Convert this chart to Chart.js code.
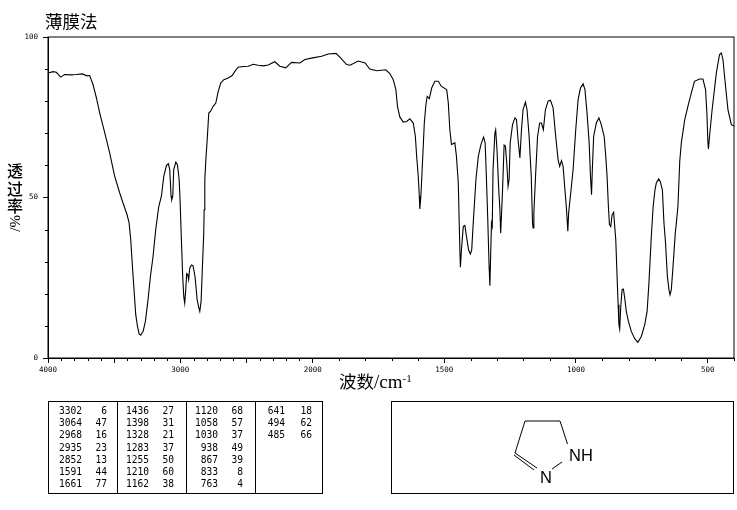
<!DOCTYPE html>
<html lang="zh">
<head>
<meta charset="utf-8">
<title>薄膜法</title>
<script src="https://cdn.jsdelivr.net/npm/chart.js@4"></script>
<style>
  html, body { margin: 0; padding: 0; background: #fff; }
  #page { position: relative; width: 737px; height: 510px; overflow: hidden; color: #000; }
  canvas { position: absolute; left: 0; top: 0; }
  .label { position: absolute; white-space: nowrap; font-family: "Noto Sans CJK SC", sans-serif; font-size: 17.5px; line-height: 18px; }
  .label .latin { font-family: "Liberation Serif", serif; font-size: 19px; }
  .label sup { font-family: "Liberation Serif", serif; font-size: 11px; line-height: 0; vertical-align: 6px; }
  .vertical { width: 18px; white-space: normal; text-align: center; font-size: 16px; line-height: 17.5px; font-weight: 500; }
  .rotated { position: absolute; transform: rotate(90deg); transform-origin: left top; font-family: "Liberation Serif", serif; font-size: 15px; line-height: 16px; white-space: nowrap; }
  .box { position: absolute; box-sizing: border-box; border: 1px solid #000; }
  .cell { position: absolute; font-family: "DejaVu Sans Mono", monospace; font-size: 9.6px; line-height: 12px; text-align: right; width: 40px; }
  svg { position: absolute; left: 0; top: 0; }
  svg line { stroke: #000; stroke-width: 1; }
  svg text { font-family: "Liberation Sans", sans-serif; font-size: 16.5px; }
</style>
</head>
<body>
<div id="page">
  <canvas id="spectrum" width="737" height="510"></canvas>
  <div class="label" style="left:45px;top:12px">薄膜法</div>
  <div class="label vertical" style="left:6px;top:162px">透过率</div>
  <div class="rotated" style="left:23px;top:215px">%/</div>
  <div class="label" style="left:339px;top:372px">波数<span class="latin">/cm</span><sup>-1</sup></div>
  <div class="box" id="peakBox" style="left:48px;top:401px;width:275px;height:93px"></div>
  <div class="box" style="left:391px;top:401px;width:343px;height:93px"></div>
  <svg width="737" height="510">
    <line x1="525" y1="421" x2="560" y2="421"/>
    <line x1="525" y1="421" x2="515" y2="453"/>
    <line x1="560" y1="421" x2="567.5" y2="444"/>
    <line x1="515" y1="453" x2="537" y2="468"/>
    <line x1="514" y1="455" x2="534" y2="470"/>
    <line x1="552" y1="469" x2="562" y2="462"/>
    <text x="569" y="461">NH</text>
    <text x="540" y="482.5">N</text>
  </svg>
</div>

<script>
// spectrum trace (cm-1 and %T)
const wavenumbers = [
  4000, 3962, 3937, 3904, 3874, 3824, 3786, 3740, 3705, 3685, 3660, 3634, 3609, 3571, 3534, 3496, 3458,
  3433, 3403, 3387, 3375, 3362, 3350, 3337, 3324, 3312, 3299, 3281, 3264, 3244, 3226, 3206, 3186, 3163,
  3143, 3125, 3105, 3090, 3080, 3070, 3065, 3057, 3050, 3034, 3022, 3009, 3002, 2992, 2982, 2974, 2967,
  2959, 2952, 2944, 2937, 2929, 2916, 2904, 2889, 2873, 2860, 2853, 2843, 2833, 2823, 2820, 2815, 2807,
  2797, 2785, 2772, 2752, 2732, 2714, 2694, 2671, 2639, 2608, 2588, 2563, 2525, 2487, 2449, 2412, 2374,
  2336, 2286, 2248, 2203, 2160, 2097, 2059, 2000, 1966, 1941, 1911, 1894, 1871, 1858, 1827, 1801, 1783,
  1757, 1722, 1707, 1694, 1684, 1678, 1669, 1656, 1643, 1631, 1618, 1610, 1605, 1599, 1595, 1593, 1589,
  1583, 1576, 1570, 1565, 1557, 1548, 1536, 1523, 1511, 1491, 1485, 1479, 1473, 1460, 1454, 1447, 1441,
  1439, 1435, 1428, 1422, 1416, 1408, 1401, 1396, 1391, 1380, 1371, 1361, 1351, 1345, 1340, 1335, 1330,
  1327, 1325, 1321, 1318, 1315, 1308, 1305, 1300, 1294, 1289, 1286, 1282, 1279, 1273, 1268, 1263, 1258,
  1254, 1250, 1241, 1232, 1226, 1220, 1213, 1207, 1201, 1192, 1186, 1178, 1170, 1165, 1163, 1160, 1153,
  1146, 1138, 1131, 1124, 1116, 1106, 1097, 1087, 1077, 1068, 1062, 1055, 1049, 1042, 1036, 1031, 1028,
  1020, 1011, 1001, 992, 983, 973, 966, 958, 950, 945, 941, 938, 933, 923, 913, 904, 893, 887, 882, 877,
  873, 868, 863, 857, 853, 849, 844, 840, 837, 834, 830, 825, 820, 815, 809, 801, 790, 777, 765, 752,
  739, 730, 723, 714, 707, 700, 695, 686, 680, 672, 666, 660, 653, 647, 643, 638, 632, 623, 619, 613,
  606, 600, 587, 575, 562, 550, 531, 518, 508, 503, 499, 497, 493, 483, 467, 455, 448, 442, 432, 423,
  410, 404, 400
];
const transmittance = [
  88.8, 89.2, 89, 87.5, 88.3, 88.2, 88.3, 88.5, 87.9, 88, 85.2, 81, 76.3, 70.1, 63.9, 56.6, 51.4,
  48.3, 44.7, 42.1, 36.9, 28.6, 21.3, 13.5, 9.9, 7.6, 7.1, 8.3, 11.4, 18.2, 25.4, 31.7, 40, 47.2,
  50.4, 56.6, 60, 60.5, 58.7, 50.4, 49.3, 50.4, 58.7, 61, 60.2, 55.6, 49.3, 36.9, 25.4, 19.2, 17.1,
  21.3, 26.3, 26, 24.4, 28, 29, 28.7, 25.4, 18.2, 15.6, 14.5, 17.7, 28.6, 38.9, 46.2, 55.6, 61.8,
  68, 76.3, 76.8, 78.4, 79.4, 83, 85.7, 86.7, 87.2, 88, 89.3, 90.6, 90.8, 90.9, 91.5, 91.2, 91,
  91.3, 92.3, 90.9, 90.4, 92.1, 91.9, 93, 93.5, 94, 94.7, 94.9, 93.5, 91.4, 91.2, 92.5, 91.9, 90,
  89.5, 89.8, 88.6, 86.7, 83.6, 78.4, 75.1, 73.5, 73.7, 74.5, 73.2, 69.1, 62.8, 56.6, 50.4, 46.4, 50.4,
  60.8, 73.2, 78.9, 81.5, 80.8, 84.1, 86.2, 86.2, 84.6, 83.6, 79.5, 71.1, 66.5, 67, 62.8, 54.5, 33.7,
  28.3, 33.7, 41, 41.3, 37.9, 33.7, 32.4, 33.7, 41, 55.6, 62.8, 66.5, 68.8, 67, 55.6, 43.1, 28.6,
  22.5, 29, 42, 41, 58.7, 70.1, 71.1, 64.9, 53.5, 46.2, 38.9, 46.2, 52.3, 66.3, 66, 60.8, 53.5,
  55.6, 67, 72.7, 74.8, 74.3, 68, 62.3, 71.1, 77.4, 79.7, 77.4, 69, 56.6, 42, 40.5, 45.2, 57.7,
  69, 73.2, 73.2, 71.1, 77.4, 80, 80.3, 77.9, 69, 61.8, 59.7, 61.5, 59.7, 52.4, 46.2, 39.5, 45.2,
  51.4, 58.7, 71.1, 80.5, 84.1, 85.4, 83.6, 76.3, 67, 56.6, 50.9, 58.7, 69, 73.2, 74.8, 72.7, 69, 62.8, 56.6, 47.3,
  41.6, 41, 44.6, 45.4, 41, 36.9, 25.4, 16.6, 10.4, 9, 16.1, 21.3, 21.5, 18.7, 14.5, 11.4, 8.3, 6, 4.9, 6.7,
  10.4, 14.5, 23.4, 37.9, 47.2, 52.4, 54.5, 55.8, 55, 52.4, 42.1, 35.8, 25.4, 21.3, 19.7, 21.3, 28, 38.9, 42, 47.2,
  61.3, 67, 74.3, 78.4, 82.6, 86.2, 86.9, 86.9, 83.6, 76.3, 67, 65.1, 69, 77.4, 88.8, 94.5, 95, 93, 84.6, 77.4,
  72.7, 72.4, 72.3
];

// axis ticks
const xMajorTicks = [4000, 3500, 3000, 2500, 2000, 1500, 1000, 500];
const xTickLabels = [4000, 3000, 2000, 1500, 1000, 500];
const xMinorTicks = [
  3900, 3800, 3700, 3600, 3400, 3300, 3200, 3100, 2900, 2800, 2700, 2600, 2400, 2300, 2200, 2100,
  1900, 1800, 1700, 1600, 1400, 1300, 1200, 1100, 900, 800, 700, 600, 400
];
const yMajorTicks = [0, 50, 100];
const yMinorTicks = [10, 20, 30, 40, 60, 70, 80, 90];

// peak table columns
const peakWavenumbers = [
  [3302, 3064, 2968, 2935, 2852, 1591, 1661],
  [1436, 1398, 1328, 1283, 1255, 1210, 1162],
  [1120, 1058, 1030, 938, 867, 833, 763],
  [641, 494, 485],
];
const peakValues = [
  [6, 47, 16, 23, 13, 44, 77],
  [27, 31, 21, 37, 50, 60, 38],
  [68, 57, 37, 49, 39, 8, 4],
  [18, 62, 66],
];

// the wavenumber axis doubles its scale below 2000 cm-1
class FoldedWavenumberScale extends Chart.LinearScale {
  static id = "foldedWavenumber";
  static defaults = Chart.LinearScale.defaults;

  getPixelForValue(value) {
    const fold = 0.3858;
    const decimal = value >= 2000
      ? (4000 - value) / 2000 * fold
      : fold + (2000 - value) / 1600 * (1 - fold);
    return this.getPixelForDecimal(decimal);
  }

  getValueForPixel(pixel) {
    const fold = 0.3858;
    const decimal = this.getDecimalForPixel(pixel);
    return decimal <= fold
      ? 4000 - decimal / fold * 2000
      : 2000 - (decimal - fold) / (1 - fold) * 1600;
  }
}
Chart.register(FoldedWavenumberScale);

const frameAndMinorTicks = {
  id: "frameAndMinorTicks",
  afterDraw(chart) {
    const { ctx, chartArea, scales } = chart;
    ctx.save();
    ctx.strokeStyle = "#000";
    ctx.lineWidth = 1;
    ctx.strokeRect(chartArea.left, chartArea.top, chartArea.right - chartArea.left, chartArea.bottom - chartArea.top);
    ctx.beginPath();
    xMinorTicks.forEach((value) => {
      const x = Math.round(scales.x.getPixelForValue(value)) + 0.5;
      ctx.moveTo(x, chartArea.bottom);
      ctx.lineTo(x, chartArea.bottom + 3);
    });
    yMinorTicks.forEach((value) => {
      const y = Math.round(scales.y.getPixelForValue(value)) + 0.5;
      ctx.moveTo(chartArea.left, y);
      ctx.lineTo(chartArea.left - 3, y);
    });
    ctx.stroke();
    ctx.restore();
  },
};

const tickFont = { family: "'DejaVu Sans Mono', monospace", size: 7.5 };

new Chart(document.getElementById("spectrum"), {
  type: "line",
  data: {
    datasets: [{
      data: wavenumbers.map((x, i) => ({ x, y: transmittance[i] })),
      borderColor: "#000",
      borderWidth: 1.1,
      pointRadius: 0,
      tension: 0,
      fill: false,
    }],
  },
  options: {
    responsive: false,
    animation: false,
    devicePixelRatio: 1,
    layout: { padding: { left: 0, top: 37, right: 3, bottom: 0 } },
    plugins: { legend: { display: false }, title: { display: false }, tooltip: { enabled: false } },
    scales: {
      x: {
        type: "foldedWavenumber",
        min: 400,
        max: 4000,
        afterBuildTicks: (scale) => { scale.ticks = xMajorTicks.map((value) => ({ value })); },
        afterFit: (scale) => { scale.height = 152; },
        grid: { drawOnChartArea: false, tickLength: 5, tickColor: "#000", tickWidth: 1 },
        border: { color: "#000" },
        ticks: {
          autoSkip: false,
          maxRotation: 0,
          padding: 3,
          color: "#000",
          font: tickFont,
          callback: (value) => (xTickLabels.includes(value) ? String(value) : ""),
        },
      },
      y: {
        min: 0,
        max: 100,
        afterBuildTicks: (scale) => { scale.ticks = yMajorTicks.map((value) => ({ value })); },
        afterFit: (scale) => { scale.width = 48; },
        grid: { drawOnChartArea: false, tickLength: 5, tickColor: "#000", tickWidth: 1 },
        border: { color: "#000" },
        ticks: { padding: 5, color: "#000", font: tickFont, callback: (value) => String(value) },
      },
    },
  },
  plugins: [frameAndMinorTicks],
});

// peak table
const peakBox = document.getElementById("peakBox");
const separators = [68, 137, 206];
const wavenumberRight = [33, 100, 169, 236];
const valueRight = [58, 125, 194, 263];

separators.forEach((left) => {
  const rule = document.createElement("div");
  rule.style.cssText = `position:absolute;left:${left}px;top:0;bottom:0;width:1px;background:#000`;
  peakBox.appendChild(rule);
});

function addCell(text, right, row) {
  const cell = document.createElement("div");
  cell.className = "cell";
  cell.textContent = text;
  cell.style.left = `${right - 40}px`;
  cell.style.top = `${3 + row * 12.2}px`;
  peakBox.appendChild(cell);
}

peakWavenumbers.forEach((column, c) => {
  column.forEach((value, row) => {
    addCell(value, wavenumberRight[c], row);
    addCell(peakValues[c][row], valueRight[c], row);
  });
});
</script>
</body>
</html>
